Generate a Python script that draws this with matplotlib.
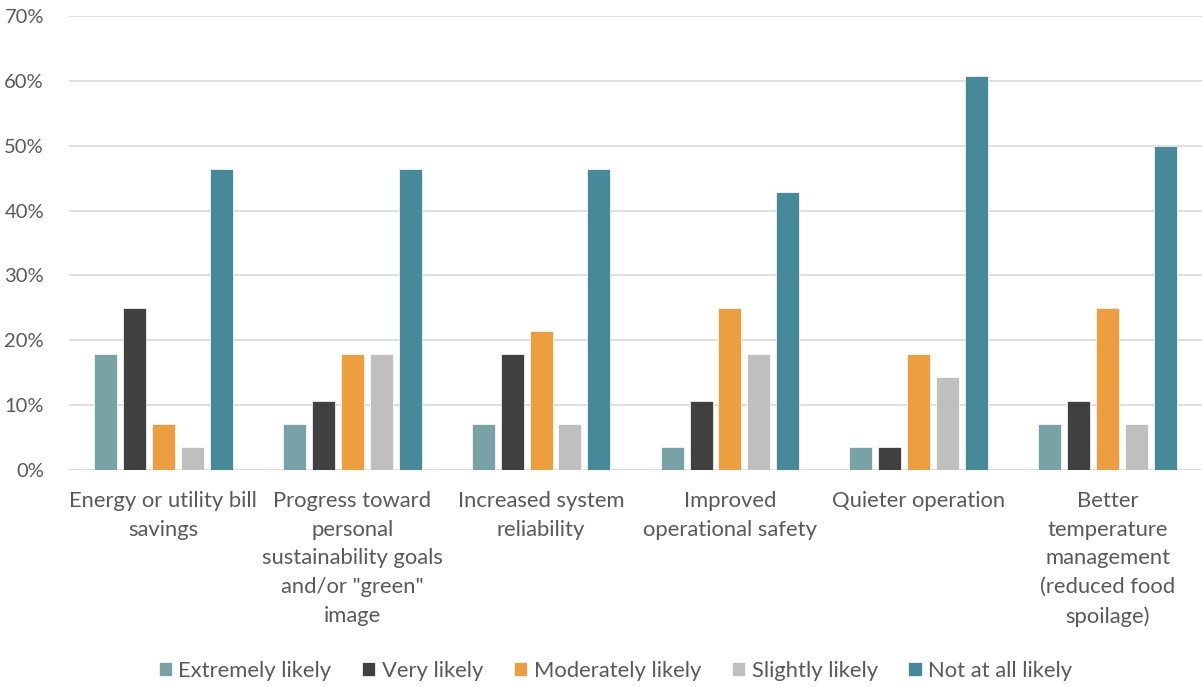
import matplotlib
matplotlib.use('Agg')
import matplotlib.pyplot as plt
import numpy as np
from matplotlib.ticker import PercentFormatter

categories = ["Energy or utility bill\nsavings",
              "Progress toward\npersonal\nsustainability goals\nand/or \"green\"\nimage",
              "Increased system\nreliability",
              "Improved\noperational safety",
              "Quieter operation",
              "Better\ntemperature\nmanagement\n(reduced food\nspoilage)"]
series = ["Extremely likely", "Very likely", "Moderately likely", "Slightly likely", "Not at all likely"]
extremely = [17.86, 7.14, 7.14, 3.57, 3.57, 7.14]
very = [25.0, 10.71, 17.86, 10.71, 3.57, 10.71]
moderately = [7.14, 17.86, 21.43, 25.0, 17.86, 25.0]
slightly = [3.57, 17.86, 7.14, 17.86, 14.29, 7.14]
not_at_all = [46.43, 46.43, 46.43, 42.86, 60.71, 50.0]
colors = ["#78A2A6", "#404040", "#ED9F40", "#BFBFBF", "#468A99"]

plt.rcParams['font.family'] = ['Lato', 'DejaVu Sans']
fig = plt.figure(figsize=(12.02, 6.87), dpi=100)
ax = fig.add_axes([0.0574, 0.3159, 0.9426, 0.6608])

x = np.arange(len(categories))
step = 0.153
for i, (name, vals) in enumerate(zip(series, [extremely, very, moderately, slightly, not_at_all])):
    ax.bar(x + (i - 2) * step, vals, width=0.122, color=colors[i], label=name,
           edgecolor='white', linewidth=0.5, zorder=3)

ax.set_xlim(-0.5, len(categories) - 0.5)
ax.set_ylim(0, 70)
ax.set_yticks(np.arange(0, 71, 10))
ax.yaxis.set_major_formatter(PercentFormatter(decimals=0))
ax.grid(axis='y', color='#D9D9D9', linewidth=1.2, zorder=0)
for s in ax.spines.values():
    s.set_visible(False)
ax.tick_params(axis='both', length=0, labelcolor='#595959')
ax.tick_params(axis='y', pad=18, labelsize=14.5)
ax.set_xticks(x)
ax.set_xticklabels(categories, linespacing=1.55, fontsize=15.8)
ax.tick_params(axis='x', pad=15)

fig.legend(loc='center', bbox_to_anchor=(0.512, 0.024), ncol=5, frameon=False,
           fontsize=15.8, labelcolor='#595959', handlelength=0.6, handleheight=0.6,
           handletextpad=0.3, columnspacing=1.4)

fig.savefig('out.png', dpi=100)
